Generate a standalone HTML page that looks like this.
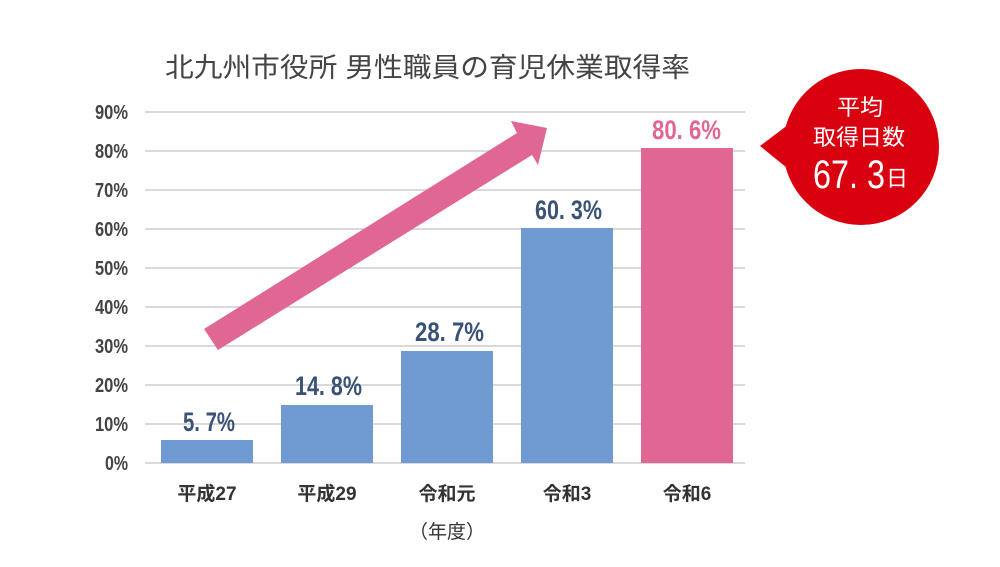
<!DOCTYPE html>
<html><head><meta charset="utf-8"><style>
body{margin:0;background:#fff;}
text{font-family:"Liberation Sans","Noto Sans CJK JP",sans-serif;}
</style></head><body>
<svg width="1000" height="562" viewBox="0 0 1000 562" xmlns="http://www.w3.org/2000/svg">
<rect width="1000" height="562" fill="#fff"/>
<text x="165" y="77" font-size="27" fill="#444" textLength="525" lengthAdjust="spacingAndGlyphs">北九州市役所 男性職員の育児休業取得率</text>
<g stroke="#d9d9d9" stroke-width="2">
<line x1="145" x2="745" y1="112" y2="112"/><line x1="145" x2="745" y1="151" y2="151"/>
<line x1="145" x2="745" y1="190" y2="190"/><line x1="145" x2="745" y1="229" y2="229"/>
<line x1="145" x2="745" y1="268" y2="268"/><line x1="145" x2="745" y1="307" y2="307"/>
<line x1="145" x2="745" y1="346" y2="346"/><line x1="145" x2="745" y1="385" y2="385"/>
<line x1="145" x2="745" y1="424" y2="424"/><line x1="145" x2="745" y1="463" y2="463"/>
</g>
<g font-size="20" fill="#444" font-weight="bold">
<text x="95" y="119" textLength="33" lengthAdjust="spacingAndGlyphs">90%</text>
<text x="95" y="158" textLength="33" lengthAdjust="spacingAndGlyphs">80%</text>
<text x="95" y="197" textLength="33" lengthAdjust="spacingAndGlyphs">70%</text>
<text x="95" y="236" textLength="33" lengthAdjust="spacingAndGlyphs">60%</text>
<text x="95" y="275" textLength="33" lengthAdjust="spacingAndGlyphs">50%</text>
<text x="95" y="314" textLength="33" lengthAdjust="spacingAndGlyphs">40%</text>
<text x="95" y="353" textLength="33" lengthAdjust="spacingAndGlyphs">30%</text>
<text x="95" y="392" textLength="33" lengthAdjust="spacingAndGlyphs">20%</text>
<text x="95" y="431" textLength="33" lengthAdjust="spacingAndGlyphs">10%</text>
<text x="105" y="470" textLength="23" lengthAdjust="spacingAndGlyphs">0%</text>
</g>
<g fill="#6f9bd2">
<rect x="161" y="440" width="92" height="23"/>
<rect x="281" y="405" width="92" height="58"/>
<rect x="401" y="351" width="92" height="112"/>
<rect x="521" y="228" width="92" height="235"/>
</g>
<rect x="641" y="148" width="92" height="315" fill="#e06693"/>
<g font-size="27" font-weight="bold" fill="#3a5275">
<text x="183" y="431" textLength="52" lengthAdjust="spacingAndGlyphs">5. 7%</text>
<text x="295" y="395" textLength="67" lengthAdjust="spacingAndGlyphs">14. 8%</text>
<text x="415" y="341" textLength="69" lengthAdjust="spacingAndGlyphs">28. 7%</text>
<text x="535" y="219" textLength="67" lengthAdjust="spacingAndGlyphs">60. 3%</text>
</g>
<text x="652" y="139" font-size="27" font-weight="bold" fill="#e06693" textLength="69" lengthAdjust="spacingAndGlyphs">80. 6%</text>
<polygon points="204,329 517,133 511,121 547,128 538,165 532,155 218,350" fill="#e06693"/>
<g font-size="19" fill="#333" text-anchor="middle" font-weight="bold">
<text x="207" y="500">平成27</text><text x="327" y="500">平成29</text>
<text x="447" y="500">令和元</text><text x="567" y="500">令和3</text>
<text x="687" y="500">令和6</text>
<text x="447" y="538" font-weight="normal">（年度）</text>
</g>
<circle cx="861" cy="147" r="78" fill="#d90010"/>
<polygon points="760,146 805,112 808,185" fill="#d90010"/>
<g fill="#fff">
<text x="837" y="115" font-size="22" textLength="46" lengthAdjust="spacingAndGlyphs">平均</text>
<text x="813" y="145" font-size="22" textLength="92" lengthAdjust="spacingAndGlyphs">取得日数</text>
<text x="813" y="188" font-size="40" textLength="72" lengthAdjust="spacingAndGlyphs">67. 3</text>
<text x="886" y="186" font-size="22">日</text>
</g>
</svg>
</body></html>
